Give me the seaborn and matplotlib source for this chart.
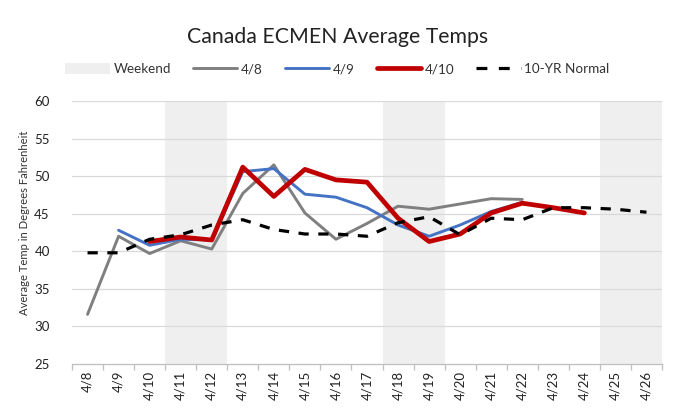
import numpy as np
import pandas as pd
import matplotlib
matplotlib.use("Agg")
import matplotlib.pyplot as plt
import seaborn as sns
from matplotlib.patches import Patch
from matplotlib.lines import Line2D

dates = ["4/8", "4/9", "4/10", "4/11", "4/12", "4/13", "4/14", "4/15", "4/16", "4/17",
         "4/18", "4/19", "4/20", "4/21", "4/22", "4/23", "4/24", "4/25", "4/26"]
nan = np.nan
run_48 = [31.6, 42.0, 39.7, 41.4, 40.3, 47.7, 51.5, 45.1, 41.6, 43.7,
          46.0, 45.6, 46.3, 47.0, 46.9, nan, nan, nan, nan]
run_49 = [nan, 42.8, 40.8, 41.6, 41.5, 50.6, 51.0, 47.6, 47.2, 45.8,
          43.5, 42.0, 43.5, 45.3, 46.5, nan, nan, nan, nan]
run_410 = [nan, nan, 41.3, 41.9, 41.5, 51.2, 47.3, 50.9, 49.5, 49.2,
           44.4, 41.3, 42.3, 45.1, 46.4, 45.8, 45.1, nan, nan]
normal = [39.8, 39.8, 41.6, 42.2, 43.5, 44.2, 42.9, 42.3, 42.3, 42.0,
          43.8, 44.6, 42.2, 44.4, 44.2, 45.8, 45.8, 45.6, 45.2]
weekends = [("4/11", "4/12"), ("4/18", "4/19"), ("4/25", "4/26")]

sns.set_theme(style="white")
plt.rcParams["font.family"] = ["Lato", "DejaVu Sans"]

df = pd.DataFrame({"pos": np.arange(len(dates)), "date": dates,
                   "r48": run_48, "r49": run_49, "r410": run_410, "norm": normal})

fig = plt.figure(figsize=(6.75, 4.15), dpi=100)
ax = fig.add_axes([72/675, 1-364/415, (662-72)/675, (364-101)/415])

band_color = "#efefef"
for a, b in weekends:
    ax.axvspan(dates.index(a) - 0.5, dates.index(b) + 0.5, color=band_color, lw=0, zorder=0)

for y in range(30, 65, 5):
    ax.axhline(y, color="#d9d9d9", lw=0.9, zorder=0.5)

dash = (0, (3.2, 3.0))
sns.lineplot(data=df, x="pos", y="r48", ax=ax, color="#7f7f7f", lw=2.1, zorder=3)
sns.lineplot(data=df, x="pos", y="r49", ax=ax, color="#4472c4", lw=2.1, zorder=4)
sns.lineplot(data=df, x="pos", y="r410", ax=ax, color="#c00000", lw=3.4, zorder=5)
sns.lineplot(data=df, x="pos", y="norm", ax=ax, color="black", lw=2.3, zorder=6,
             linestyle=dash)

ax.set_xlim(-0.5, len(dates) - 0.5)
ax.set_ylim(25, 60)
ax.set_yticks(range(25, 65, 5))
ax.set_xticks(np.arange(len(dates)))
ax.set_xticklabels(dates, rotation=90, fontsize=9.5, color="#222222")
ax.set_xticks(np.arange(len(dates) + 1) - 0.5, minor=True)
ax.tick_params(axis="x", which="major", length=0, pad=5)
ax.tick_params(axis="x", which="minor", length=4.5, color="#bfbfbf", width=0.9, bottom=True)
ax.tick_params(axis="y", length=0, labelsize=9.5, labelcolor="#222222", pad=16)
for s in ["top", "right", "left"]:
    ax.spines[s].set_visible(False)
ax.spines["bottom"].set_color("#bfbfbf")
ax.spines["bottom"].set_linewidth(0.9)
ax.set_xlabel("")
ax.set_ylabel("Average Temp in Degrees Fahrenheit", fontsize=8.1, color="#333333")
ax.yaxis.set_label_coords(-0.072, 0.535)

fig.text(0.5, 1 - 37/415, "Canada ECMEN Average Temps", ha="center", va="center",
         fontsize=15.3, color="#222222")

handles = [Patch(facecolor=band_color, edgecolor="none"),
           Line2D([], [], color="#7f7f7f", lw=2.1),
           Line2D([], [], color="#4472c4", lw=2.1),
           Line2D([], [], color="#c00000", lw=3.4),
           Line2D([], [], color="black", lw=2.3, linestyle=(0, (3.4, 3.6)))]
labels = ["Weekend", "4/8", "4/9", "4/10", "10-YR Normal"]
fig.legend(handles, labels, loc="center", bbox_to_anchor=(0.5, 1 - 69/415), ncol=5,
           frameon=False, fontsize=9.7, handlelength=3.3, handleheight=0.9,
           columnspacing=1.65, handletextpad=0.25, labelcolor="#333333")

fig.savefig("out.png", dpi=100)
